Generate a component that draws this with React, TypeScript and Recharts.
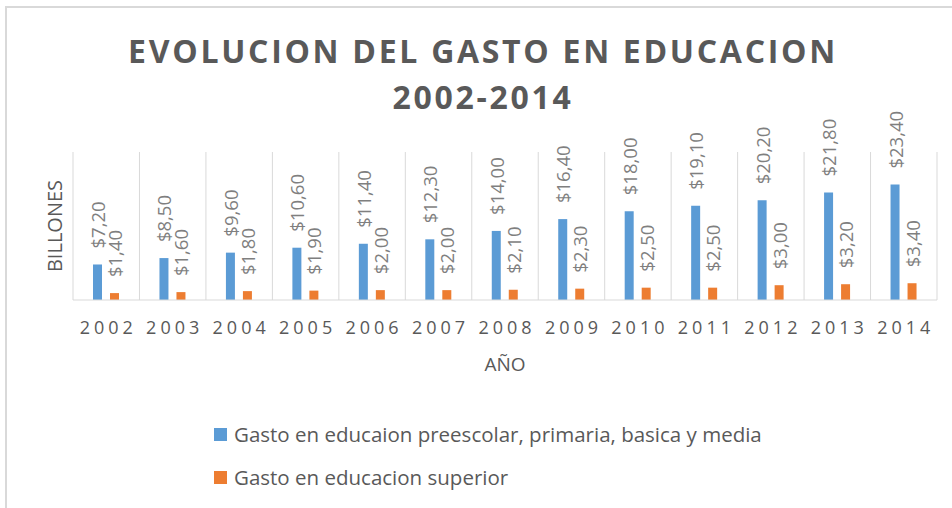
import { BarChart, Bar, XAxis, YAxis, CartesianGrid, LabelList } from 'recharts';

const years = ['2002', '2003', '2004', '2005', '2006', '2007', '2008', '2009', '2010', '2011', '2012', '2013', '2014'];
const gastoBasica = [7.2, 8.5, 9.6, 10.6, 11.4, 12.3, 14.0, 16.4, 18.0, 19.1, 20.2, 21.8, 23.4];
const gastoSuperior = [1.4, 1.6, 1.8, 1.9, 2.0, 2.0, 2.1, 2.3, 2.5, 2.5, 3.0, 3.2, 3.4];

const seriesNames = ['Gasto en educaion preescolar, primaria, basica y media', 'Gasto en educacion superior'];
const seriesColors = ['#5B9BD5', '#ED7D31'];

const data = years.map((year, i) => ({
  year,
  basica: gastoBasica[i],
  superior: gastoSuperior[i],
}));

const FONT = '"Open Sans", sans-serif';

const fmt = (v: number) => '$' + v.toFixed(2).replace('.', ',');

const BarLabel = (props: any) => {
  const { x, y, width, value } = props;
  const cx = x + width / 2;
  const cy = y - 16;
  return (
    <text
      x={cx}
      y={cy}
      transform={`rotate(-90, ${cx}, ${cy})`}
      textAnchor="start"
      dominantBaseline="central"
      fill="#7f7f7f"
      fontSize={18.5}
      fontFamily={FONT}
    >
      {fmt(value)}
    </text>
  );
};

const YearTick = (props: any) => {
  const { x, y, payload } = props;
  return (
    <text x={x + 2} y={y + 26} textAnchor="middle" fill="#595959" fontSize={18} fontFamily={FONT} letterSpacing={4}>
      {payload.value}
    </text>
  );
};

const YLabel = (props: any) => {
  const { viewBox } = props;
  const cx = viewBox.x + viewBox.width * 0.75;
  const cy = viewBox.y + viewBox.height / 2;
  return (
    <text
      x={cx}
      y={cy}
      transform={`rotate(-90, ${cx}, ${cy})`}
      textAnchor="middle"
      dominantBaseline="central"
      fill="#595959"
      fontSize={20}
      fontFamily={FONT}
    >
      BILLONES
    </text>
  );
};

export default function App() {
  return (
    <div style={{ position: 'relative', width: 952, height: 508, background: '#fff', overflow: 'hidden', fontFamily: FONT }}>
      <style>{'body{margin:0}'}</style>
      <div
        style={{
          position: 'absolute',
          left: 5,
          top: 6,
          right: -10,
          bottom: -10,
          borderTop: '2px solid #d9d9d9',
          borderLeft: '2px solid #d9d9d9',
        }}
      />
      <div
        style={{
          position: 'absolute',
          left: 0,
          top: 28,
          width: 966,
          textAlign: 'center',
          color: '#595959',
          fontWeight: 700,
          fontSize: 32,
          letterSpacing: 2.7,
          lineHeight: '46px',
        }}
      >
        EVOLUCION DEL GASTO EN EDUCACION
        <br />
        2002-2014
      </div>

      <div style={{ position: 'absolute', left: 0, top: 0 }}>
        <BarChart
          width={952}
          height={508}
          data={data}
          margin={{ top: 152, right: 15, bottom: 128, left: 0 }}
          barGap={8}
          barSize={9}
        >
          <CartesianGrid
            horizontal={false}
            stroke="#d9d9d9"
            verticalCoordinatesGenerator={({ offset }: any) =>
              Array.from({ length: years.length + 1 }, (_, i) => offset.left + (i * offset.width) / years.length)
            }
          />
          <XAxis
            dataKey="year"
            height={80}
            axisLine={{ stroke: '#d9d9d9' }}
            tickLine={false}
            tick={<YearTick />}
            interval={0}
            label={{ value: 'AÑO', position: 'insideBottom', offset: 9, fill: '#595959', fontSize: 19, fontFamily: FONT }}
          />
          <YAxis
            width={73}
            domain={[0, 30]}
            tick={false}
            axisLine={false}
            tickLine={false}
            label={<YLabel />}
          />
          <Bar dataKey="basica" fill={seriesColors[0]} isAnimationActive={false}>
            <LabelList dataKey="basica" content={<BarLabel />} />
          </Bar>
          <Bar dataKey="superior" fill={seriesColors[1]} isAnimationActive={false}>
            <LabelList dataKey="superior" content={<BarLabel />} />
          </Bar>
        </BarChart>
      </div>

      {seriesNames.map((name, i) => (
        <div
          key={name}
          style={{
            position: 'absolute',
            left: 214,
            top: 434 + i * 43 - 14,
            height: 28,
            display: 'flex',
            alignItems: 'center',
            color: '#595959',
            fontSize: 20.5,
            whiteSpace: 'nowrap',
          }}
        >
          <span style={{ display: 'inline-block', width: 13, height: 13, background: seriesColors[i], marginRight: 7 }} />
          {name}
        </div>
      ))}
    </div>
  );
}
